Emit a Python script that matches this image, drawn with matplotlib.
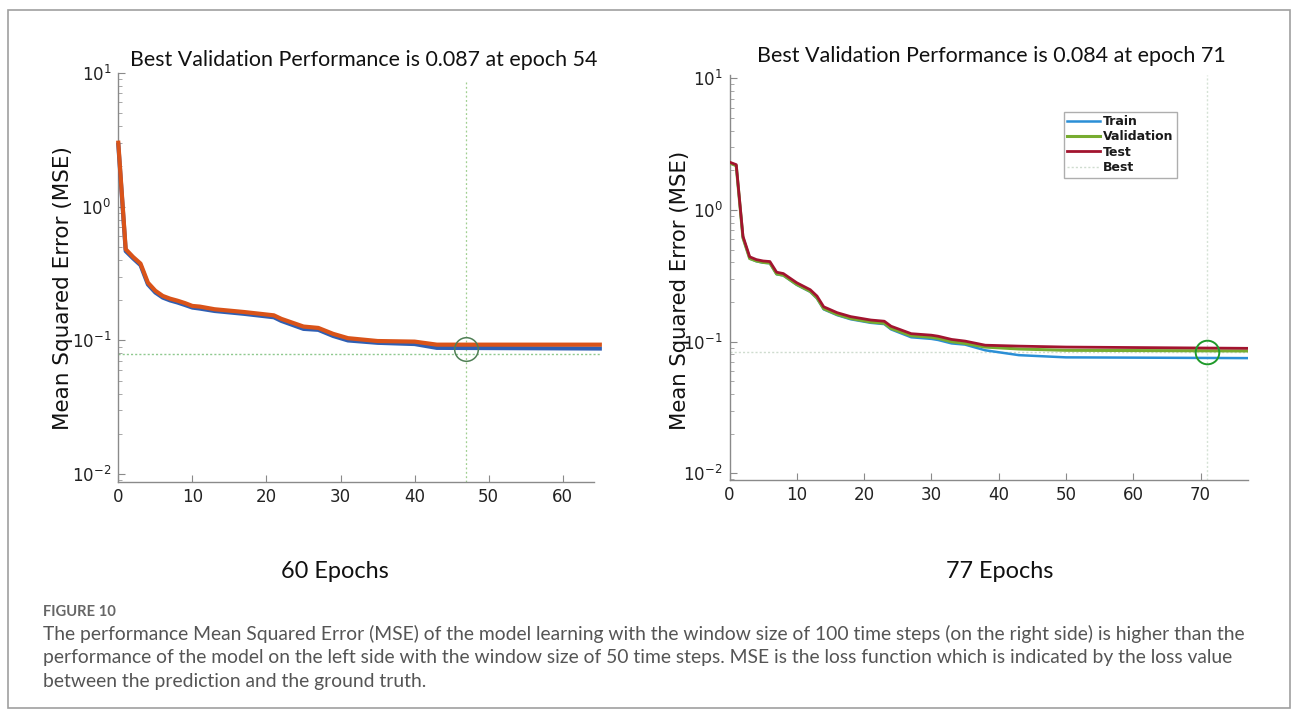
import matplotlib
matplotlib.use("Agg")
import matplotlib.pyplot as plt
from matplotlib.patches import Rectangle
from matplotlib.ticker import LogLocator, NullFormatter

# ---------------- data ----------------
left_epochs = [0, 1, 2, 3, 4, 5, 6, 7, 8, 9, 10, 11, 13, 17, 21, 22, 25, 27, 29, 31, 35, 40, 43, 65]
left_valid = [3.0, 0.48, 0.42, 0.375, 0.27, 0.235, 0.215, 0.205, 0.198, 0.19, 0.181, 0.179, 0.171,
              0.163, 0.154, 0.145, 0.127, 0.124, 0.112, 0.104, 0.099, 0.098, 0.093, 0.093]
left_train = [2.9, 0.465, 0.41, 0.365, 0.262, 0.228, 0.209, 0.199, 0.192, 0.184, 0.176, 0.173, 0.166,
              0.158, 0.149, 0.14, 0.122, 0.12, 0.108, 0.1, 0.096, 0.094, 0.088, 0.087]
left_best_epoch = 47
left_best_value = 0.087
left_best_level = 0.0786

right_epochs = [0, 1, 2, 3, 4, 5, 6, 7, 8, 10, 12, 13, 14, 16, 18, 21, 23, 24, 27, 30, 31, 33, 35, 38, 43, 50, 77]
right_test = [2.31, 2.21, 0.632, 0.441, 0.42, 0.41, 0.406, 0.337, 0.329, 0.28, 0.248, 0.222, 0.184, 0.166,
              0.155, 0.146, 0.143, 0.131, 0.115, 0.112, 0.11, 0.104, 0.101, 0.094, 0.0925, 0.091, 0.089]
right_valid = [2.28, 2.17, 0.615, 0.428, 0.41, 0.40, 0.396, 0.327, 0.32, 0.272, 0.241, 0.215, 0.178, 0.161,
               0.150, 0.141, 0.138, 0.126, 0.111, 0.108, 0.106, 0.100, 0.097, 0.091, 0.088, 0.086, 0.085]
right_train = [2.28, 2.17, 0.615, 0.428, 0.408, 0.398, 0.394, 0.325, 0.318, 0.27, 0.239, 0.213, 0.176, 0.159,
               0.148, 0.139, 0.136, 0.124, 0.108, 0.105, 0.103, 0.097, 0.095, 0.086, 0.079, 0.076, 0.075]
right_best_epoch = 71
right_best_value = 0.084

left_xticks = [0, 10, 20, 30, 40, 50, 60]
right_xticks = [0, 10, 20, 30, 40, 50, 60, 70]
legend_labels = ["Train", "Validation", "Test", "Best"]

left_title = "Best Validation Performance is 0.087 at epoch 54"
right_title = "Best Validation Performance is 0.084 at epoch 71"
ylabel = "Mean Squared Error (MSE)"
left_sub = "60 Epochs"
right_sub = "77 Epochs"
fig_label = "FIGURE 10"
caption = [
    "The performance Mean Squared Error (MSE) of the model learning with the window size of 100 time steps (on the right side) is higher than the",
    "performance of the model on the left side with the window size of 50 time steps. MSE is the loss function which is indicated by the loss value",
    "between the prediction and the ground truth.",
]

# ---------------- figure ----------------
W, H, DPI = 1298, 713, 100
fig = plt.figure(figsize=(W / DPI, H / DPI), dpi=DPI)
fig.patch.set_facecolor("white")


def px_rect(x0, y_top, x1, y_bot):
    return [x0 / W, 1 - y_bot / H, (x1 - x0) / W, (y_bot - y_top) / H]


def fx(x):
    return x / W


def fy(y):
    return 1 - y / H


# border
fig.add_artist(Rectangle((fx(8), fy(708)), (1290 - 8) / W, (708 - 10) / H, transform=fig.transFigure,
                         fill=False, edgecolor="#a0a0a0", lw=1.2))

axL = fig.add_axes(px_rect(118.3, 72.7, 599.8, 482))
axR = fig.add_axes(px_rect(729.5, 75, 1247.7, 480))

spine_col = "#8a8a8a"
for ax in (axL, axR):
    ax.set_yscale("log")
    for s in ("top", "right"):
        ax.spines[s].set_visible(False)
    for s in ("left", "bottom"):
        ax.spines[s].set_color(spine_col)
        ax.spines[s].set_linewidth(1.0)
    ax.tick_params(axis="both", which="major", direction="in", length=5, width=0.8, color=spine_col,
                   labelsize=12, labelcolor="#222222")
    ax.tick_params(axis="y", which="minor", direction="in", length=3, width=0.6, color="#9a9a9a")
    ax.tick_params(axis="x", which="major", pad=4)
    ax.tick_params(axis="y", which="major", pad=5)
    ax.yaxis.set_minor_locator(LogLocator(base=10, subs=range(2, 10), numticks=20))
    ax.yaxis.set_minor_formatter(NullFormatter())
    ax.yaxis.set_major_locator(LogLocator(base=10, numticks=10))

# ---- left ----
axL.set_xlim(0, 65)
axL.set_ylim(0.00876, 10)
axL.spines["bottom"].set_bounds(0, 64.2)
axL.set_xticks(left_xticks)
axL.set_yticks([0.01, 0.1, 1, 10])
axL.plot(left_epochs, left_train, color="#2f5fb3", lw=3.0, solid_joinstyle="round", clip_on=False, zorder=3)
axL.plot(left_epochs, left_valid, color="#d95319", lw=3.0, solid_joinstyle="round", clip_on=False, zorder=4)
axL.plot([left_best_epoch, left_best_epoch], [0.00876, 8.8], color="#9fcf8f", lw=0.9, ls=(0, (1.5, 2)), zorder=2)
axL.plot([0, 65], [left_best_level, left_best_level], color="#8fc98f", lw=1.0, ls=(0, (1.5, 1.5)), zorder=2)
axL.plot([left_best_epoch], [left_best_value], marker="o", ms=17, mfc="none", mec="#4f7f55", mew=1.1, zorder=5)

# ---- right ----
axR.set_xlim(0, 77)
axR.set_ylim(0.0089, 10.6)
axR.set_xticks(right_xticks)
axR.set_yticks([0.01, 0.1, 1, 10])
axR.plot(right_epochs, right_train, color="#2b8fd6", lw=1.8, label=legend_labels[0], zorder=3)
axR.plot(right_epochs, right_valid, color="#77ac30", lw=2.2, label=legend_labels[1], zorder=4)
axR.plot(right_epochs, right_test, color="#a2142f", lw=2.0, label=legend_labels[2], zorder=5)
axR.plot([0, 77], [right_best_value, right_best_value], color="#cfdccf", lw=1.0, ls=(0, (1.5, 1.5)),
         label=legend_labels[3], zorder=2)
axR.plot([right_best_epoch, right_best_epoch], [0.0089, 10.6], color="#d6e2d6", lw=1.0, ls=(0, (1.5, 1.5)), zorder=2)
axR.plot([right_best_epoch], [right_best_value], marker="o", ms=17, mfc="none", mec="#1f9a2a", mew=1.4, zorder=6)

leg = axR.legend(loc="upper left", bbox_to_anchor=(fx(1063.5), fy(111.5)), bbox_transform=fig.transFigure,
                 borderaxespad=0, frameon=True, fancybox=False, handlelength=2.6, handletextpad=0.25,
                 labelspacing=0.18, borderpad=0.3, prop={"family": "DejaVu Sans", "size": 9, "weight": "bold"})
leg.get_frame().set_edgecolor("#9a9a9a")
leg.get_frame().set_linewidth(1.0)
for t in leg.get_texts():
    t.set_color("#1a1a1a")

# ---------------- texts ----------------
renderer = fig.canvas.get_renderer()


def fit(t, width=None, height=None):
    bb = t.get_window_extent(renderer)
    if width is not None:
        t.set_fontsize(t.get_fontsize() * width / bb.width)
    else:
        t.set_fontsize(t.get_fontsize() * height / bb.height)


tL = fig.text(fx(364), fy(60), left_title, ha="center", va="center", family="Lato", fontsize=15, color="#111111")
tR = fig.text(fx(991), fy(56), right_title, ha="center", va="center", family="Lato", fontsize=15, color="#111111")
fit(tL, width=467)
fit(tR, width=469)

yl1 = fig.text(fx(63), fy(288), ylabel, rotation=90, ha="center", va="center", family="DejaVu Sans", fontsize=15,
               color="#111111")
yl2 = fig.text(fx(680), fy(290), ylabel, rotation=90, ha="center", va="center", family="DejaVu Sans", fontsize=15,
               color="#111111")
fit(yl1, height=283)
fit(yl2, height=280)

s1 = fig.text(fx(335), fy(572), left_sub, ha="center", va="center", family="Lato", fontsize=15, color="#111111")
s2 = fig.text(fx(1000), fy(572), right_sub, ha="center", va="center", family="Lato", fontsize=15, color="#111111")
fit(s1, width=108)
s2.set_fontsize(s1.get_fontsize())

fl = fig.text(fx(43), fy(612), fig_label, ha="left", va="center", family="Lato", fontsize=9, weight="bold",
              color="#666666")
fit(fl, width=73)

cap_ts = []
for i, line in enumerate(caption):
    c = fig.text(fx(43), fy(634 + 24 * i), line, ha="left", va="center", family="Lato", fontsize=12,
                 color="#555555")
    cap_ts.append(c)
fit(cap_ts[0], width=1201)
for c in cap_ts[1:]:
    c.set_fontsize(cap_ts[0].get_fontsize())

fig.savefig("out.png", dpi=DPI, facecolor="white")
